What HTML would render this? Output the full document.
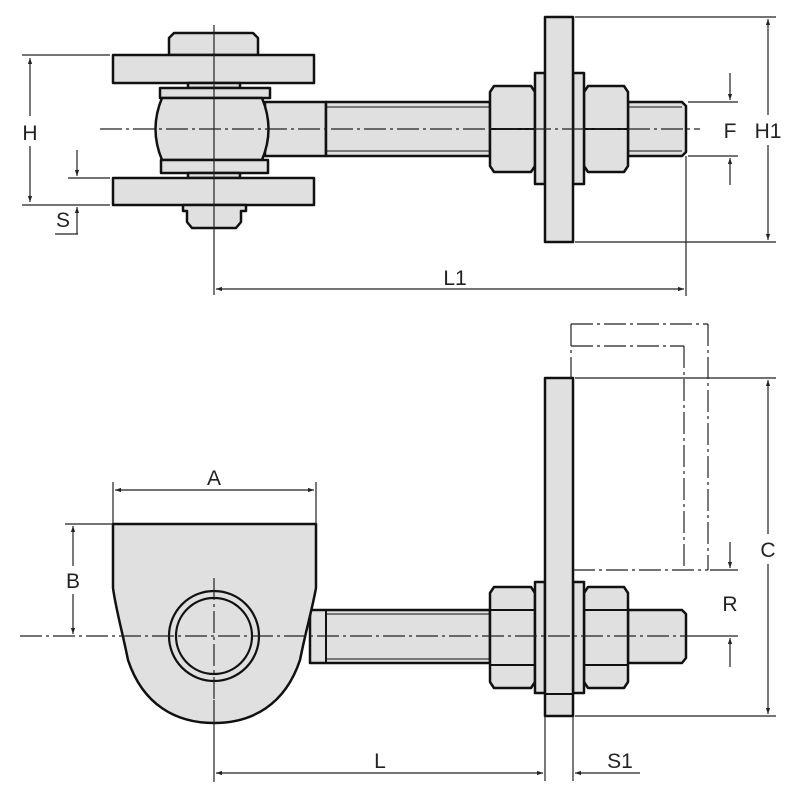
<!DOCTYPE html>
<html><head><meta charset="utf-8"><style>
html,body{margin:0;padding:0;background:#fff;width:800px;height:800px;overflow:hidden}
svg{display:block}
text{font-family:"Liberation Sans",sans-serif;font-size:21px;fill:#222;text-anchor:middle}
</style></head><body>
<svg width="800" height="800" viewBox="0 0 800 800" xmlns="http://www.w3.org/2000/svg">
<defs>
<marker id="ar" viewBox="0 0 10 10" refX="10" refY="5" markerWidth="9" markerHeight="6" orient="auto-start-reverse" markerUnits="userSpaceOnUse"><path d="M0,1.5 L10,5 L0,8.5 Z" fill="#222"/></marker>
</defs>
<g fill="#e0e0e0" stroke="#111" stroke-width="2.5" stroke-linejoin="round">
<path d="M169,55 V38 L174,33 H253 L258,38 V55 Z"/>
<rect x="113" y="55" width="201" height="28"/>
<rect x="188" y="83" width="52" height="5"/>
<rect x="160" y="88" width="110" height="10"/>
<path d="M265,102 H326 V156 H265 Z"/>
<rect x="326" y="102" width="164" height="54"/>
<path d="M162,98 H262 Q275,129 262,160 H162 Q149,129 162,98 Z"/>
<rect x="161" y="160" width="107" height="13"/>
<rect x="188" y="173" width="52" height="5"/>
<rect x="113" y="178" width="201" height="27"/>
<path d="M183,205 H246 V211 H241 V222 L236,228 H192 L187,222 V211 H183 Z"/>
<path d="M628,102 H682 L686,106 V152 L682,156 H628 Z"/>
<path d="M494,86 H531 L535,92 V166 L531,172 H494 L490,166 V92 Z"/>
<path d="M588,86 H624 L628,92 V166 L624,172 H588 L584,166 V92 Z"/>
<rect x="535" y="73" width="10" height="111"/>
<rect x="573" y="73" width="11" height="111"/>
<rect x="545" y="17" width="28" height="225"/>
<rect x="310" y="610" width="180" height="53"/>
<path d="M628,610 H682 L686,614 V658 L682,663 H628 Z"/>
<path d="M113,524 H316 V588 C312,610 306,630 300,660 C285,705 252,723 214,723 C176,723 143,705 128,660 C122,630 116,610 113,588 Z"/>
<path d="M494,587 H531 L535,593 V682 L531,688 H494 L490,682 V593 Z"/>
<path d="M588,587 H624 L628,593 V682 L624,688 H588 L584,682 V593 Z"/>
<rect x="535" y="582" width="10" height="111"/>
<rect x="573" y="582" width="11" height="111"/>
<rect x="545" y="378" width="28" height="338"/>
</g>
<g fill="none" stroke="#111" stroke-width="2">
<line x1="326" y1="107" x2="490" y2="107" stroke-width="1"/><line x1="326" y1="151" x2="490" y2="151" stroke-width="1"/>
<line x1="628" y1="107" x2="682" y2="107" stroke-width="1"/><line x1="628" y1="151" x2="682" y2="151" stroke-width="1"/>
<line x1="490" y1="129" x2="535" y2="129"/><line x1="584" y1="129" x2="628" y2="129"/>
<line x1="326" y1="614" x2="490" y2="614" stroke-width="1"/><line x1="326" y1="659" x2="490" y2="659" stroke-width="1"/>
<line x1="326" y1="610" x2="326" y2="663"/>
<line x1="490" y1="610" x2="535" y2="610"/><line x1="490" y1="665" x2="535" y2="665"/>
<line x1="584" y1="610" x2="628" y2="610"/><line x1="584" y1="665" x2="628" y2="665"/>
<line x1="545" y1="694" x2="573" y2="694"/>
<circle cx="214" cy="636" r="45" fill="#e0e0e0" stroke-width="2.2"/>
<circle cx="214" cy="636" r="38" fill="#e0e0e0" stroke-width="2.2"/>
</g>
<g stroke="#222" stroke-width="1.2" fill="none" stroke-dasharray="22,4,3,4">
<line x1="100" y1="129" x2="700" y2="129"/>
<line x1="20" y1="636" x2="700" y2="636"/>
<line x1="214" y1="578" x2="214" y2="700"/>
<line x1="571" y1="324" x2="708" y2="324"/><line x1="708" y1="324" x2="708" y2="570"/>
<line x1="571" y1="346" x2="684" y2="346"/><line x1="684" y1="346" x2="684" y2="570"/>
<line x1="573" y1="570" x2="708" y2="570"/>
<line x1="571" y1="324" x2="571" y2="378"/>
</g>
<g stroke="#222" stroke-width="1.2" fill="none">
<line x1="214" y1="25" x2="214" y2="295"/>
<line x1="214" y1="700" x2="214" y2="782"/>
<line x1="22" y1="55" x2="110" y2="55"/><line x1="22" y1="205" x2="110" y2="205"/>
<line x1="30" y1="58" x2="30" y2="116" marker-start="url(#ar)"/><line x1="30" y1="146" x2="30" y2="202" marker-end="url(#ar)"/>
<line x1="68" y1="178" x2="110" y2="178"/>
<line x1="77" y1="150" x2="77" y2="176" marker-end="url(#ar)"/>
<line x1="77" y1="234" x2="77" y2="207" marker-end="url(#ar)"/>
<line x1="55" y1="234" x2="78" y2="234"/>
<line x1="686" y1="156" x2="686" y2="296"/>
<line x1="216" y1="289" x2="684" y2="289" marker-start="url(#ar)" marker-end="url(#ar)"/>
<line x1="575" y1="17" x2="776" y2="17"/><line x1="575" y1="242" x2="776" y2="242"/>
<line x1="768" y1="19" x2="768" y2="115" marker-start="url(#ar)"/><line x1="768" y1="145" x2="768" y2="240" marker-end="url(#ar)"/>
<line x1="688" y1="102" x2="738" y2="102"/><line x1="688" y1="156" x2="738" y2="156"/>
<line x1="730" y1="73" x2="730" y2="100" marker-end="url(#ar)"/>
<line x1="730" y1="185" x2="730" y2="158" marker-end="url(#ar)"/>
<line x1="113" y1="482" x2="113" y2="524"/><line x1="316" y1="482" x2="316" y2="524"/>
<line x1="115" y1="490" x2="314" y2="490" marker-start="url(#ar)" marker-end="url(#ar)"/>
<line x1="65" y1="524" x2="113" y2="524"/>
<line x1="73" y1="526" x2="73" y2="566" marker-start="url(#ar)"/><line x1="73" y1="594" x2="73" y2="634" marker-end="url(#ar)"/>
<line x1="575" y1="378" x2="776" y2="378"/><line x1="575" y1="716" x2="776" y2="716"/>
<line x1="768" y1="380" x2="768" y2="534" marker-start="url(#ar)"/><line x1="768" y1="564" x2="768" y2="714" marker-end="url(#ar)"/>
<line x1="710" y1="570" x2="738" y2="570"/><line x1="700" y1="636" x2="738" y2="636"/>
<line x1="730" y1="542" x2="730" y2="568" marker-end="url(#ar)"/>
<line x1="730" y1="667" x2="730" y2="638" marker-end="url(#ar)"/>
<line x1="545" y1="716" x2="545" y2="781"/><line x1="573" y1="716" x2="573" y2="781"/>
<line x1="216" y1="773" x2="543" y2="773" marker-start="url(#ar)" marker-end="url(#ar)"/>
<line x1="640" y1="773" x2="575" y2="773" marker-end="url(#ar)"/>
</g>
<g>
<rect x="19" y="117" width="22" height="28" fill="#fff"/>
<text x="30" y="140">H</text>
<text x="63" y="227">S</text>
<text x="455" y="285">L1</text>
<rect x="752" y="116" width="32" height="28" fill="#fff"/>
<text x="768" y="138">H1</text>
<text x="730" y="138">F</text>
<text x="214" y="485">A</text>
<rect x="62" y="567" width="22" height="26" fill="#fff"/>
<text x="73" y="588">B</text>
<rect x="757" y="535" width="22" height="28" fill="#fff"/>
<text x="768" y="557">C</text>
<text x="730" y="611">R</text>
<text x="380" y="768">L</text>
<text x="620" y="768">S1</text>
</g>
</svg>
</body></html>
